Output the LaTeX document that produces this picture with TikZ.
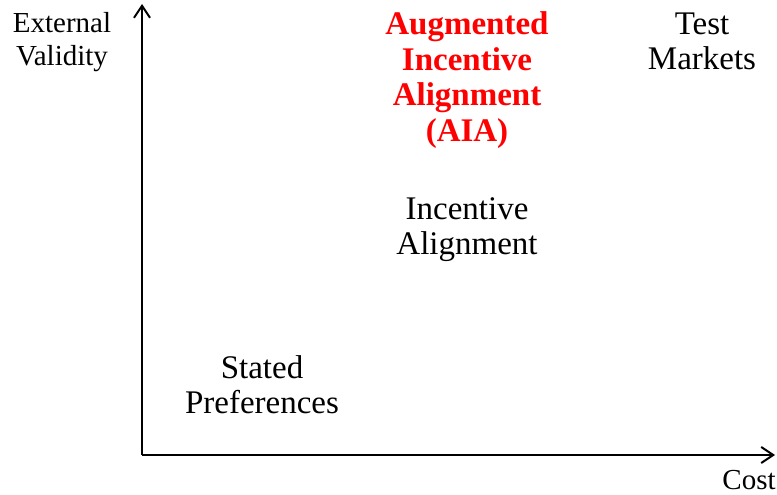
\documentclass[tikz,border=0pt]{standalone}
\usepackage{fontspec}
\setmainfont{Liberation Serif}
\usetikzlibrary{arrows.meta, positioning}

\begin{document}
\begin{tikzpicture}[x=1pt, y=-1pt,
    axis/.style={line width=2pt, -{Straight Barb[length=12pt, width=16pt, line width=2pt]}},
    axislabel/.style={align=center, font=\fontsize{29}{33}\selectfont, inner sep=0pt},
    method/.style={align=center, font=\fontsize{33}{35}\selectfont, inner sep=0pt},
    highlight/.style={method, font=\fontsize{33}{35.5}\selectfont\bfseries, text=red}]
        \useasboundingbox (0,0) rectangle (777,495);

        % Ejes
        \coordinate (origin) at (142,455);
        \coordinate (ytip) at (142,4);
        \coordinate (xtip) at (775,455);
        \draw[axis] (origin) -- (ytip);
        \draw[axis] (origin) -- (xtip);

        % Etiquetas de los ejes
        \node[axislabel] (validity) at (62,42) {External\\Validity};
        \node[axislabel] (cost) at (749,480) {Cost};

        % Metodos
        \node[method] (stated) at (262,385) {Stated\\Preferences};
        \node[method] (incentive) at (467,230) {Incentive\\Alignment};
        \node[method] (test) at (702,41) {Test\\Markets};
        \node[highlight] (aia) at (467,80) {Augmented\\Incentive\\Alignment\\(AIA)};

    \end{tikzpicture}
\end{document}
